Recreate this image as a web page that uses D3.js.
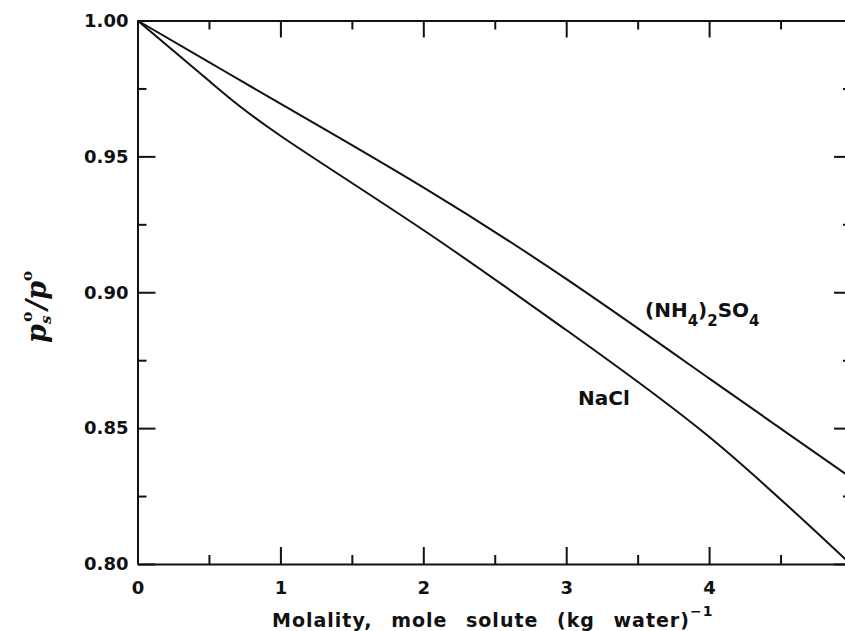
<!DOCTYPE html>
<html>
<head>
<meta charset="utf-8">
<script src="https://cdn.jsdelivr.net/npm/d3@7"></script>
<style>
  body { margin: 0; background: #fff; }
  .axis text { font-family: "DejaVu Sans", sans-serif; font-size: 18px; font-weight: bold; fill: #111; }
  .axis path, .axis line { stroke: #111; stroke-width: 2; }
</style>
</head>
<body>
<div class="chart"></div>
<script>
// molality (mol / kg water) and water vapour pressure ratio
const molality = [0, 0.5, 1, 2, 3, 4, 5];
const naclRatio = [1.0, 0.9778, 0.9576, 0.9229, 0.8861, 0.8468, 0.7995];
const amSulfRatio = [1.0, 0.9847, 0.9694, 0.9386, 0.9049, 0.8683, 0.8315];
const xTicks = [0, 1, 2, 3, 4, 5];
const yTicks = [0.80, 0.85, 0.90, 0.95, 1.00];

const width = 845, height = 631;
const margin = {top: 20.5, left: 137.5};
const plotRight = 852, plotBottom = 564;

const svg = d3.select(".chart").append("svg")
  .attr("width", width)
  .attr("height", height);

const xScale = d3.scaleLinear().domain([0, 5]).range([margin.left, plotRight]);
const yScale = d3.scaleLinear().domain([0.80, 1.00]).range([plotBottom, margin.top]);

const xMinor = d3.range(0.5, 5, 1);
const yMinor = d3.range(0.825, 1.0, 0.05);

// bottom axis
svg.append("g").attr("class", "axis")
  .attr("transform", `translate(0,${plotBottom})`)
  .call(d3.axisBottom(xScale).tickValues(xTicks).tickSize(-17).tickSizeOuter(0).tickPadding(17).tickFormat(d3.format("d")));
svg.append("g").attr("class", "axis")
  .attr("transform", `translate(0,${plotBottom})`)
  .call(d3.axisBottom(xScale).tickValues(xMinor).tickSize(-9).tickFormat(""))
  .call(g => g.select(".domain").remove());

// top axis
svg.append("g").attr("class", "axis")
  .attr("transform", `translate(0,${margin.top})`)
  .call(d3.axisTop(xScale).tickValues(xTicks).tickSize(-17).tickSizeOuter(0).tickFormat(""));
svg.append("g").attr("class", "axis")
  .attr("transform", `translate(0,${margin.top})`)
  .call(d3.axisTop(xScale).tickValues(xMinor).tickSize(-9).tickFormat(""))
  .call(g => g.select(".domain").remove());

// left axis
svg.append("g").attr("class", "axis")
  .attr("transform", `translate(${margin.left},0)`)
  .call(d3.axisLeft(yScale).tickValues(yTicks).tickSize(-18).tickSizeOuter(0).tickPadding(9).tickFormat(d3.format(".2f")));
svg.append("g").attr("class", "axis")
  .attr("transform", `translate(${margin.left},0)`)
  .call(d3.axisLeft(yScale).tickValues(yMinor).tickSize(-9).tickFormat(""))
  .call(g => g.select(".domain").remove());

// right axis
svg.append("g").attr("class", "axis")
  .attr("transform", `translate(${plotRight},0)`)
  .call(d3.axisRight(yScale).tickValues(yTicks).tickSize(-18).tickSizeOuter(0).tickFormat(""));
svg.append("g").attr("class", "axis")
  .attr("transform", `translate(${plotRight},0)`)
  .call(d3.axisRight(yScale).tickValues(yMinor).tickSize(-9).tickFormat(""))
  .call(g => g.select(".domain").remove());

// curves
const line = d3.line()
  .x((d, i) => xScale(molality[i]))
  .y(d => yScale(d))
  .curve(d3.curveNatural);

svg.append("path").datum(naclRatio)
  .attr("d", line).attr("fill", "none").attr("stroke", "#111").attr("stroke-width", 2);
svg.append("path").datum(amSulfRatio)
  .attr("d", line).attr("fill", "none").attr("stroke", "#111").attr("stroke-width", 2);

// curve labels
const lab = svg.append("text")
  .attr("x", 645).attr("y", 317)
  .style("font-family", "DejaVu Sans, sans-serif").style("font-size", "20px").style("font-weight", "bold").attr("fill", "#111");
lab.append("tspan").text("(NH");
lab.append("tspan").attr("dy", 9).style("font-size", "15px").text("4");
lab.append("tspan").attr("dy", -9).text(")");
lab.append("tspan").attr("dy", 9).style("font-size", "15px").text("2");
lab.append("tspan").attr("dy", -9).text("SO");
lab.append("tspan").attr("dy", 9).style("font-size", "15px").text("4");

svg.append("text")
  .attr("x", 578).attr("y", 405)
  .style("font-family", "DejaVu Sans, sans-serif").style("font-size", "20px").style("font-weight", "bold").attr("fill", "#111")
  .text("NaCl");

// x label
const xl = svg.append("text")
  .attr("x", 272).attr("y", 627)
  .style("font-family", "DejaVu Sans, sans-serif").style("font-size", "19px").style("font-weight", "bold")
  .style("letter-spacing", "1px").style("word-spacing", "11px").attr("fill", "#111");
xl.append("tspan").text("Molality, mole solute (kg water)");
xl.append("tspan").attr("dy", -11).style("font-size", "14px").text("\u22121");

// y label
const yl = svg.append("text")
  .attr("transform", "translate(46,343) rotate(-90)")
  .style("font-family", "DejaVu Serif, serif").style("font-style", "italic").style("font-weight", "bold")
  .style("font-size", "27px").attr("fill", "#111");
yl.append("tspan").text("p");
yl.append("tspan").attr("dy", 5).style("font-size", "15px").text("s");
yl.append("tspan").attr("dy", -19).attr("dx", -6).style("font-size", "15px").style("font-style", "normal").text("o");
yl.append("tspan").attr("dy", 14).attr("dx", 2).text("/p");
yl.append("tspan").attr("dy", -14).style("font-size", "15px").style("font-style", "normal").text("o");
</script>
</body>
</html>
